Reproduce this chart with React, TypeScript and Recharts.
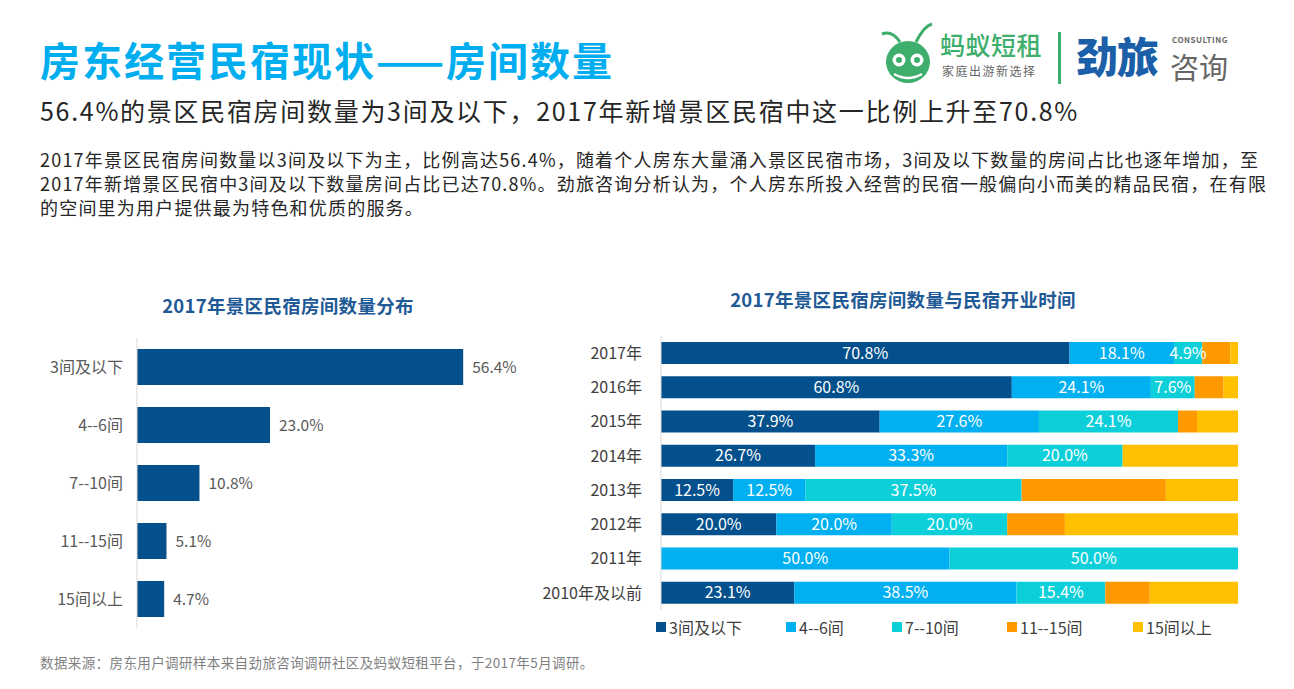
import { BarChart, Bar, XAxis, YAxis, LabelList } from "recharts"

const distLabels = ["3间及以下", "4--6间", "7--10间", "11--15间", "15间以上"]
const distValues = [56.4, 23.0, 10.8, 5.1, 4.7]

const years = ["2017年", "2016年", "2015年", "2014年", "2013年", "2012年", "2011年", "2010年及以前"]
const le3 = [70.8, 60.8, 37.9, 26.7, 12.5, 20.0, 0, 23.1]
const r4to6 = [18.1, 24.1, 27.6, 33.3, 12.5, 20.0, 50.0, 38.5]
const r7to10 = [4.9, 7.6, 24.1, 20.0, 37.5, 20.0, 50.0, 15.4]
const r11to15 = [4.9, 5.0, 3.3, 0, 25.0, 10.0, 0, 7.7]
const r15plus = [1.3, 2.5, 7.1, 20.0, 12.5, 30.0, 0, 15.3]

const seriesNames = ["3间及以下", "4--6间", "7--10间", "11--15间", "15间以上"]
const seriesKeys = ["le3", "r4to6", "r7to10", "r11to15", "r15plus"]
const seriesColors = ["#03508C", "#00B0F0", "#0DCFDA", "#FF9900", "#FFC000"]
// legend slot widths
const legendWidths = [130, 106, 115, 126, 100]

const distData = distLabels.map((name, i) => ({ name, value: distValues[i] }))
const yearData = years.map((name, i) => ({
  name,
  le3: le3[i],
  r4to6: r4to6[i],
  r7to10: r7to10[i],
  r11to15: r11to15[i],
  r15plus: r15plus[i],
}))

const FONT = '"Noto Sans CJK SC", "Noto Sans", sans-serif'

const pct = (v: any) => (Number(v) > 0 ? Number(v).toFixed(1) + "%" : "")

function Logos() {
  return (
    <div style={{ position: "absolute", left: 878, top: 22, width: 370, height: 66 }}>
      <svg width={62} height={64} style={{ position: "absolute", left: 0, top: 0 }}>
        <path d="M22 20 Q14 8 4 12" stroke="#3DAE6B" strokeWidth={3} fill="none" />
        <path d="M38 20 Q46 4 54 2" stroke="#3DAE6B" strokeWidth={3} fill="none" />
        <ellipse cx={30} cy={40} rx={22} ry={21} fill="#3DAE6B" />
        <circle cx={21} cy={38} r={6.5} fill="#fff" />
        <circle cx={39} cy={38} r={6.5} fill="#fff" />
        <circle cx={21} cy={38} r={3} fill="#3DAE6B" />
        <circle cx={39} cy={38} r={3} fill="#3DAE6B" />
        <path d="M16 52 Q30 60 44 52" stroke="#fff" strokeWidth={2.5} fill="none" />
      </svg>
      <div style={{ position: "absolute", left: 62, top: 7, fontSize: 25, color: "#3DAE6B", fontWeight: 500, lineHeight: "30px", letterSpacing: 0.5 }}>
        蚂蚁短租
      </div>
      <div style={{ position: "absolute", left: 64, top: 42, fontSize: 12, color: "#666", lineHeight: "14px", letterSpacing: 1.5 }}>
        家庭出游新选择
      </div>
      <div style={{ position: "absolute", left: 180, top: 10, width: 3, height: 52, background: "#3DAE6B" }} />
      <div style={{ position: "absolute", left: 198, top: 10, fontSize: 42, color: "#1B5FA8", fontWeight: 900, lineHeight: "46px", letterSpacing: -1 }}>
        劲旅
      </div>
      <div style={{ position: "absolute", left: 294, top: 13, fontSize: 8, color: "#666", fontWeight: 700, letterSpacing: 0.5, lineHeight: "9px" }}>
        CONSULTING
      </div>
      <div style={{ position: "absolute", left: 292, top: 29, fontSize: 29, color: "#666", lineHeight: "30px" }}>
        咨询
      </div>
    </div>
  )
}

function YearLegend() {
  return (
    <div style={{ position: "absolute", left: 656, top: 615, display: "flex", fontSize: 16, color: "#404040", fontFamily: FONT, whiteSpace: "nowrap" }}>
      {seriesNames.map((n, i) => (
        <div key={n} style={{ display: "flex", alignItems: "center", gap: 3, width: legendWidths[i] }}>
          <span style={{ width: 10, height: 10, background: seriesColors[i], display: "inline-block" }} />
          <span>{n}</span>
        </div>
      ))}
    </div>
  )
}

export default function App() {
  return (
    <div style={{ position: "absolute", left: 0, top: 0, width: 1294, height: 689, background: "#fff", fontFamily: FONT, overflow: "hidden" }}>
      <div style={{ position: "absolute", left: 40, top: 34, fontSize: 40, fontWeight: 700, color: "#00AEEF", lineHeight: "50px", whiteSpace: "nowrap", letterSpacing: 2 }}>
        房东经营民宿现状——房间数量
      </div>
      <Logos />
      <div style={{ position: "absolute", left: 40, top: 94, fontSize: 25, color: "#262626", lineHeight: "32px", whiteSpace: "nowrap", letterSpacing: 1.7 }}>
        56.4%的景区民宿房间数量为3间及以下，2017年新增景区民宿中这一比例上升至70.8%
      </div>
      <div style={{ position: "absolute", left: 40, top: 147, fontSize: 18, color: "#262626", lineHeight: "24px", whiteSpace: "nowrap", letterSpacing: 1.2 }}>
        <div>2017年景区民宿房间数量以3间及以下为主，比例高达56.4%，随着个人房东大量涌入景区民宿市场，3间及以下数量的房间占比也逐年增加，至</div>
        <div>2017年新增景区民宿中3间及以下数量房间占比已达70.8%。劲旅咨询分析认为，个人房东所投入经营的民宿一般偏向小而美的精品民宿，在有限</div>
        <div>的空间里为用户提供最为特色和优质的服务。</div>
      </div>

      <div style={{ position: "absolute", left: 88, top: 292, width: 400, textAlign: "center", fontSize: 18.5, fontWeight: 700, color: "#1F5A96", letterSpacing: 0.3 }}>
        2017年景区民宿房间数量分布
      </div>
      <div style={{ position: "absolute", left: 653, top: 286, width: 500, textAlign: "center", fontSize: 18.5, fontWeight: 700, color: "#1F5A96", letterSpacing: 0.3 }}>
        2017年景区民宿房间数量与民宿开业时间
      </div>

      <div style={{ position: "absolute", left: 0, top: 330 }}>
        <BarChart width={520} height={310} data={distData} layout="vertical" margin={{ top: 8, right: 36, bottom: 12, left: 0 }}>
          <XAxis type="number" hide domain={[0, 60]} />
          <YAxis
            type="category"
            dataKey="name"
            width={137}
            axisLine={{ stroke: "#D9D9D9" }}
            tickLine={false}
            tickSize={0}
            tickMargin={14}
            tick={{ fill: "#595959", fontSize: 16 }}
          />
          <Bar dataKey="value" fill="#03508C" barSize={36} isAnimationActive={false}>
            <LabelList dataKey="value" position="right" offset={9} fill="#595959" fontSize={15.5} formatter={pct} />
          </Bar>
        </BarChart>
      </div>

      <div style={{ position: "absolute", left: 520, top: 330 }}>
        <BarChart width={740} height={290} data={yearData} layout="vertical" margin={{ top: 6, right: 22, bottom: 10, left: 0 }}>
          <XAxis type="number" hide domain={[0, 100]} allowDataOverflow />
          <YAxis
            type="category"
            dataKey="name"
            width={141}
            axisLine={{ stroke: "#D9D9D9" }}
            tickLine={false}
            tickSize={0}
            tickMargin={19}
            tick={{ fill: "#404040", fontSize: 16 }}
          />
          {seriesKeys.map((k, i) => (
            <Bar key={k} dataKey={k} name={seriesNames[i]} stackId="a" fill={seriesColors[i]} barSize={22} isAnimationActive={false}>
              {i < 3 && <LabelList dataKey={k} position="center" fill="#fff" fontSize={16} formatter={pct} />}
            </Bar>
          ))}
        </BarChart>
      </div>
      <YearLegend />

      <div style={{ position: "absolute", left: 40, top: 652, fontSize: 13.5, color: "#7F7F7F", whiteSpace: "nowrap", letterSpacing: 0.4 }}>
        数据来源：房东用户调研样本来自劲旅咨询调研社区及蚂蚁短租平台，于2017年5月调研。
      </div>
    </div>
  )
}
